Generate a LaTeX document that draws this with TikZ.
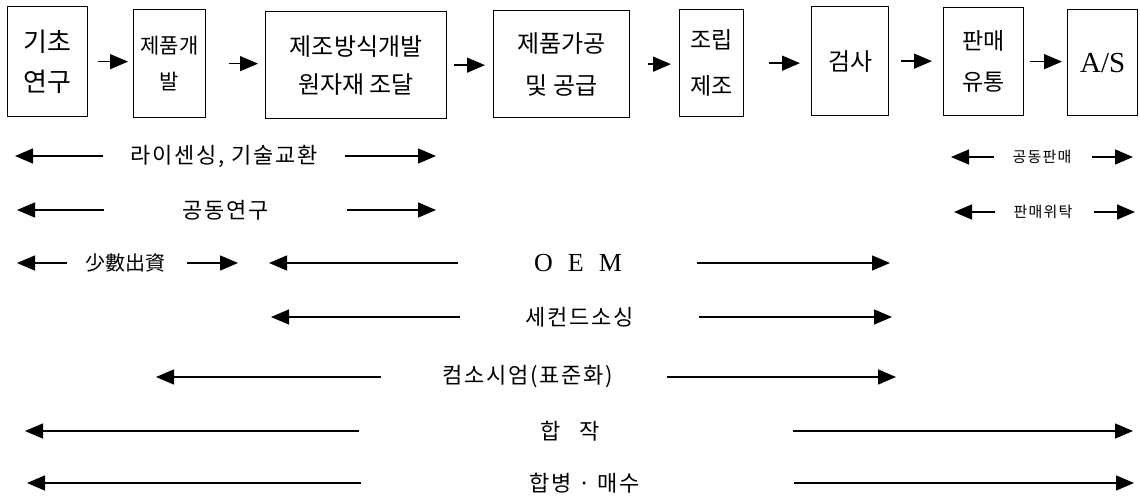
\documentclass[tikz,border=0pt]{standalone}
\usepackage{fontspec}
\setmainfont{Liberation Serif}
\newfontfamily\kr{Noto Sans CJK KR}
\newfontfamily\krs{Noto Sans CJK KR}[LetterSpace=8]
\usetikzlibrary{arrows.meta}
\begin{document}
\begin{tikzpicture}[x=1pt,y=-1pt,
  box/.style={draw, line width=1.3pt, anchor=north west, inner sep=0pt, align=center},
  arr/.style={line width=1.3pt, -{Triangle[length=18pt,width=15pt]}},
  lab/.style={inner sep=0pt, font=\krs\fontsize{22}{22}\selectfont},
  sm/.style={inner sep=0pt, font=\krs\fontsize{15}{15}\selectfont}]
\fill[white] (0,0) rectangle (1140,500);
\useasboundingbox (0,0) rectangle (1140,500);

% top row of boxes
\node[box, minimum width=80pt, minimum height=110pt, font=\kr\fontsize{26}{40}\selectfont] (b1) at (7,6) {기초\\연구};
\node[box, minimum width=72pt, minimum height=108pt, font=\kr\fontsize{21}{36}\selectfont] (b2) at (133,9) {제품개\\발};
\node[box, minimum width=181pt, minimum height=107pt, font=\kr\fontsize{24}{38}\selectfont] (b3) at (265,11) {제조방식개발\\원자재 조달};
\node[box, minimum width=136pt, minimum height=107pt, font=\kr\fontsize{24}{42}\selectfont] (b4) at (493,10) {제품가공\\및 공급};
\node[box, minimum width=64pt, minimum height=107pt, font=\kr\fontsize{23}{46}\selectfont] (b5) at (679,9) {조립\\제조};
\node[box, minimum width=77pt, minimum height=109pt, font=\kr\fontsize{24}{24}\selectfont] (b6) at (811,6) {검사};
\node[box, minimum width=80pt, minimum height=108pt, font=\kr\fontsize{23}{41}\selectfont] (b7) at (943,7) {판매\\유통};
\node[box, minimum width=70pt, minimum height=106pt, font=\fontsize{29}{29}\selectfont] (b8) at (1067,9) {A/S};

% arrows between boxes
\draw[arr, shorten <=10pt, shorten >=5pt] (b1.east) -- (b1.east -| b2.west);
\draw[arr, shorten <=23pt, shorten >=7pt] (b2.east) -- (b2.east -| b3.west);
\draw[arr, shorten <=7pt, shorten >=8pt] (b3.east) -- (b3.east -| b4.west);
\draw[arr, shorten <=18pt, shorten >=8pt] (b4.east) -- (b4.east -| b5.west);
\draw[arr, shorten <=25pt, shorten >=11pt] (b5.east) -- (b5.east -| b6.west);
\draw[arr, shorten <=12pt, shorten >=11pt] (b6.east) -- (b6.east -| b7.west);
\draw[arr, shorten <=6pt, shorten >=5pt] (b7.east) -- (b7.east -| b8.west);

% labels of the cooperation forms
\node[lab] (l1) at (224,156) {라이센싱, 기술교환};
\node[sm] (l1b) at (1042,157) {공동판매};
\node[lab] (l2) at (226,210) {공동연구};
\node[sm] (l2b) at (1043,212) {판매위탁};
\node[inner sep=0pt, font=\kr\fontsize{20}{20}\selectfont] (l3) at (125,263) {少數出資};
\node[inner sep=0pt, font=\fontsize{26}{26}\selectfont] (l3b) at (578,263) {O\hspace{15pt}E\hspace{15pt}M};
\node[lab] (l4) at (580,317) {세컨드소싱};
\node[lab] (l5) at (528,377) {컴소시엄(표준화)};
\node[lab] (l6) at (570,431) {합\hspace{18pt}작};
\node[lab] (l7) at (585,483) {합병 · 매수};

% span arrows: name / y / left tail / left tip / right tail / right tip
\foreach \n/\y/\lt/\lh/\rt/\rh in {
  r1/156/103/15/345/436,
  r1b/157/994/951/1092/1133,
  r2/210/104/17/347/436,
  r2b/212/995/954/1094/1135,
  r3/263/67/17/187/238,
  r3b/263/458/269/697/890,
  r4/317/460/271/699/892,
  r5/377/381/156/667/896,
  r6/431/359/25/793/1133,
  r7/483/361/27/794/1134}{
  \coordinate (\n-lt) at (\lt,\y);
  \coordinate (\n-lh) at (\lh,\y);
  \coordinate (\n-rt) at (\rt,\y);
  \coordinate (\n-rh) at (\rh,\y);
  \draw[arr] (\n-lt) -- (\n-lh);
  \draw[arr] (\n-rt) -- (\n-rh);
}
\end{tikzpicture}
\end{document}
